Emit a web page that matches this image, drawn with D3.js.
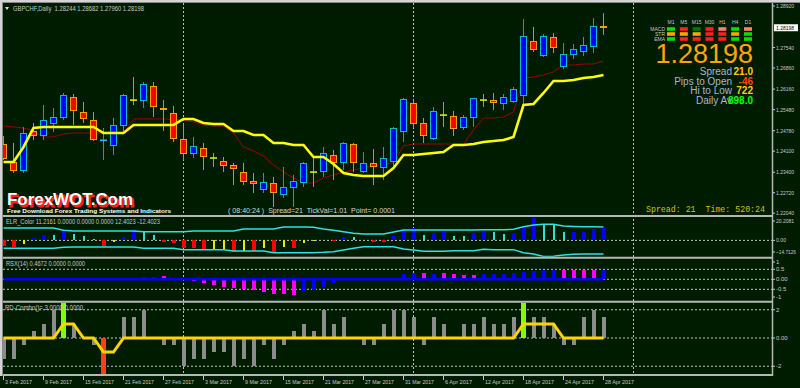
<!DOCTYPE html>
<html>
<head>
<meta charset="utf-8">
<script src="https://cdn.jsdelivr.net/npm/d3@7"></script>
<style>
  body { margin: 0; background: #001c00; }
  svg { display: block; font-family: "Liberation Sans", Arial, sans-serif; }
</style>
</head>
<body>
<div id="chart"></div>
<script>
// daily bars, GBPCHF
const dates = ["3 Feb","6 Feb","7 Feb","8 Feb","9 Feb","10 Feb","13 Feb","14 Feb","15 Feb","16 Feb","17 Feb","20 Feb","21 Feb","22 Feb","23 Feb","24 Feb","27 Feb","28 Feb",
  "1 Mar","2 Mar","3 Mar","6 Mar","7 Mar","8 Mar","9 Mar","10 Mar","13 Mar","14 Mar","15 Mar","16 Mar","17 Mar","20 Mar","21 Mar","22 Mar","23 Mar","24 Mar","27 Mar","28 Mar","29 Mar","30 Mar","31 Mar",
  "3 Apr","4 Apr","5 Apr","6 Apr","7 Apr","10 Apr","11 Apr","12 Apr","13 Apr","14 Apr","17 Apr","18 Apr","19 Apr","20 Apr","21 Apr","24 Apr","25 Apr","26 Apr","27 Apr","28 Apr"];
const open  = [1.24305,1.23708,1.23442,1.24737,1.24604,1.25002,1.25202,1.25866,1.25368,1.25102,1.24455,1.24272,1.24936,1.25800,1.25766,1.26231,1.25510,1.25334,1.24471,1.24006,1.24172,1.23876,1.23741,1.23608,1.23376,1.23077,1.22811,1.23010,1.22645,1.22878,1.23044,1.23412,1.23409,1.23940,1.23708,1.24305,1.23409,1.23674,1.23542,1.23741,1.24737,1.25666,1.25002,1.24504,1.25305,1.25235,1.24870,1.25202,1.25802,1.25766,1.25666,1.25733,1.25932,1.27725,1.27260,1.27858,1.26895,1.27326,1.27393,1.27559,1.28244];
const high  = [1.24604,1.24372,1.24903,1.25036,1.25633,1.25534,1.26032,1.25998,1.25733,1.25401,1.24870,1.25202,1.25998,1.26563,1.26397,1.26397,1.25799,1.25600,1.25036,1.24571,1.24372,1.24040,1.23907,1.23708,1.23708,1.23376,1.23376,1.23243,1.23575,1.23309,1.23741,1.23874,1.24239,1.24139,1.24405,1.24372,1.24073,1.24172,1.24239,1.24903,1.25866,1.25799,1.25202,1.25567,1.25733,1.25434,1.25301,1.25866,1.25998,1.26032,1.25998,1.26231,1.28488,1.28223,1.27990,1.28024,1.27692,1.27658,1.27891,1.28522,1.28682];
const low   = [1.23807,1.23376,1.23376,1.24471,1.24471,1.24737,1.25135,1.24969,1.25036,1.24438,1.23807,1.23973,1.24737,1.25633,1.25534,1.25235,1.24770,1.24405,1.23807,1.23874,1.23475,1.23575,1.23409,1.22977,1.22977,1.22712,1.22712,1.22247,1.22546,1.22247,1.22911,1.22911,1.23243,1.23143,1.23475,1.23409,1.23376,1.22977,1.23143,1.23575,1.24405,1.24870,1.24372,1.24471,1.24903,1.24604,1.24803,1.24903,1.25567,1.25467,1.25467,1.25700,1.25633,1.27393,1.27227,1.27360,1.26828,1.27160,1.27260,1.27360,1.27960];
const close = [1.23840,1.23442,1.24703,1.24604,1.25102,1.25202,1.25932,1.25434,1.25168,1.24471,1.24460,1.24936,1.25932,1.25795,1.26330,1.25567,1.25495,1.24504,1.24006,1.24239,1.23907,1.23872,1.23608,1.23508,1.23077,1.23010,1.23044,1.22712,1.22878,1.23077,1.23674,1.23405,1.24006,1.23708,1.24338,1.23708,1.23674,1.23575,1.23840,1.24836,1.25799,1.25002,1.24604,1.25401,1.25298,1.24836,1.25202,1.25832,1.25796,1.25700,1.25866,1.26164,1.27891,1.27459,1.27891,1.27526,1.27326,1.27459,1.27592,1.28223,1.28198];

// overlay lines on price
const slowLine = [1.23741,1.23741,1.24239,1.24870,1.24903,1.24903,1.24903,1.24903,1.24903,1.24903,1.24703,1.24703,1.24703,1.24969,1.24969,1.24969,1.24969,1.24969,1.25168,1.25168,1.25036,1.25002,1.25002,1.24770,1.24770,1.24637,1.24637,1.24372,1.24372,1.24305,1.24305,1.23907,1.23907,1.23674,1.23376,1.23309,1.23276,1.23276,1.23276,1.23542,1.23973,1.23973,1.24006,1.24040,1.24073,1.24305,1.24305,1.24338,1.24405,1.24438,1.24471,1.24571,1.25633,1.25666,1.26032,1.26430,1.26430,1.26463,1.26530,1.26563,1.26629];
const fastLine = [1.24936,1.24903,1.24870,1.24770,1.24571,1.24571,1.24670,1.24703,1.24703,1.24703,1.24703,1.24703,1.24703,1.25168,1.25168,1.25168,1.25168,1.25168,1.25135,1.25069,1.24969,1.24936,1.24936,1.24703,1.24239,1.24106,1.23940,1.23641,1.23409,1.23210,1.23044,1.23044,1.23210,1.23309,1.23409,1.23475,1.23542,1.23608,1.23674,1.23708,1.24272,1.24338,1.24338,1.24338,1.24338,1.24338,1.24338,1.24803,1.25202,1.25202,1.25235,1.25401,1.26530,1.26563,1.26629,1.26729,1.26961,1.26961,1.26994,1.26994,1.27094];
const priceTicks = [1.28920,1.27540,1.26860,1.26160,1.25480,1.24780,1.24100,1.23400,1.22720,1.22040];
const lastPrice = 1.28198;

// ELR_Color
const elrValues = [-4.9,-5.8,-3.6,1.9,5.0,5.0,8.0,5.9,4.0,1.3,-5.1,-1.2,3.4,10.5,8.0,5.0,-1.2,-2.4,-6.7,-6.7,-8.8,-8.8,-8.2,-10.4,-9.7,-9.7,-7.3,-10.9,-5.8,-7.3,-2.4,-0.5,1.0,-0.6,3.4,3.4,0.8,-1.2,-1.5,4.0,9.6,11.7,5.0,6.5,8.0,4.0,4.0,6.5,8.6,8.0,5.6,7.1,13.2,20.2081,14.2,14.2,8.0,8.0,8.0,10.2,11.2161];
const elrColors = ["r","r","y","b","b","c","b","c","c","c","r","y","b","b","c","c","r","r","r","r","r","y","y","r","y","r","y","r","y","r","y","y","b","r","b","c","c","r","r","b","b","b","c","b","b","c","c","b","b","c","c","b","b","b","c","c","c","b","b","b","b"];
const elrUpper = [11.4,11.4,11.4,11.4,11.4,11.4,9.3,8.6,8.6,8.6,8.6,8.6,8.6,8.6,8.0,8.0,8.0,8.0,8.0,8.6,8.6,8.6,8.6,8.6,10.5,10.5,10.5,10.5,12.3,12.3,12.3,12.0,10.5,9.3,8.0,6.5,5.9,5.9,5.9,7.7,9.6,9.6,9.6,9.6,9.6,9.6,9.6,9.6,9.8,9.8,9.8,10.2,12.6,14.2,14.8,14.8,13.2,12.8,12.6,12.5,12.4023];
const elrLower = [-7.3,-7.3,-7.3,-7.3,-7.3,-7.3,-6.3,-6.1,-6.1,-6.1,-6.1,-6.1,-6.1,-6.1,-7.3,-7.3,-7.3,-7.3,-8.5,-8.5,-8.5,-8.5,-8.5,-9.7,-9.7,-9.7,-9.7,-11.3,-11.3,-11.3,-11.3,-11.3,-11.0,-10.4,-8.8,-7.3,-5.8,-5.8,-5.8,-5.8,-7.9,-8.8,-10.0,-10.0,-10.0,-9.5,-9.5,-9.5,-8.2,-8.5,-8.5,-8.5,-11.3,-12.5,-14.7126,-14.5,-13.5,-12.8,-12.6,-12.5,-12.4023];
const elrMax = 20.2081, elrMin = -14.7126;

// RSX(14)
const rsxValues = [0,0,0,0,0,0,0,0,0,0.05,0,0,0,0,0.12,0.14,0.15,0.08,0,-0.10,-0.20,-0.30,-0.38,-0.45,-0.50,-0.55,-0.65,-0.72,-0.74,-0.78,-0.60,-0.55,-0.40,-0.20,-0.05,0,0,0,0,0.05,0.26,0.31,0.31,0.27,0.31,0.26,0.22,0.22,0.26,0.26,0.26,0.31,0.36,0.44,0.48,0.48,0.48,0.48,0.48,0.48,0.4672];
const rsxColors = ["b","b","b","b","b","b","b","b","b","m","b","b","b","b","b","b","m","m","m","m","m","m","m","m","m","m","m","m","m","m","b","b","b","b","b","b","b","b","b","b","b","b","m","b","m","m","m","m","b","b","b","b","b","b","b","b","m","m","m","m","b"];
const rsxLevels = [0.5, 0, -0.5];

// RD-Combo
const rdHist = [-1.5,-1.5,-0.5,0.5,1,2,0,1,0,-0.5,0,0,1.5,1.5,2,0,-0.5,-0.5,-2,-1.5,-1.5,-1,-1,-2,-1.5,-2,-0.5,-1.5,-0.5,0.5,1,0.5,2,1,1.5,0,-0.5,-0.5,1,2,2,1.5,-0.5,1.5,1,0,1,1,1.5,1,1,1.5,0,1.5,1.5,1,-0.5,-0.5,1.5,2,1.5];
const rdSignal = [0,0,0,0,0,0,1,1,0,0,-1,-1,0,0,0,0,0,0,0,0,0,0,0,0,0,0,0,0,0,0,0,0,0,0,0,0,0,0,0,0,0,0,0,0,0,0,0,0,0,0,0,0,1,1,1,1,0,0,0,0,0];
const rdArrows = [0,0,0,0,0,0,3,0,0,0,-3,0,0,0,0,0,0,0,0,0,0,0,0,0,0,0,0,0,0,0,0,0,0,0,0,0,0,0,0,0,0,0,0,0,0,0,0,0,0,0,0,0,3,0,0,0,0,0,0,0,0];
const rdLevels = [2, 0, -2];

const monthStarts = [18, 41, 63]; // bar index of 1 Mar, 3 Apr, 3 May

// dashboard
const timeframes = ["M1","M5","M15","M30","H1","H4","D1"];
const dashRows = ["MACD","STR","EMA"];
const dashColors = [
  ["#00e000","#ff2020","#007800","#ff2020","#ff8070","#00e000","#ff8070"],
  ["#ffa500","#ffa500","#ffa500","#ff2020","#ff2020","#ffa500","#00e000"],
  ["#00e000","#ff2020","#ff2020","#ff2020","#ff2020","#00e000","#00e000"]
];
const infoLabels = ["Spread","Pips to Open","Hi to Low","Daily Av"];
const infoValues = ["21.0","-46","722","898.0"];
const infoColors = ["#ffd000","#ff4500","#ffd000","#00ff00"];

const width = 800, height = 388;
const grid = "#c0c4c0", txt = "#c8c8c8";

const svg = d3.select("#chart").append("svg")
  .attr("width", width)
  .attr("height", height);

svg.append("rect").attr("width", width).attr("height", height).attr("fill", "#001c00");

// scales
const x = d3.scaleLinear().domain([0, dates.length - 1]).range([3, 603]);
const yPrice = d3.scaleLinear().domain([1.22040, 1.28920]).range([213.2, 6]);
const yElr = d3.scaleLinear().domain([elrMin, elrMax]).range([256.4, 218.4]);
const yRsx = d3.scaleLinear().domain([-1, 1]).range([299.3, 259.3]);
const yRd = d3.scaleLinear().domain([-2.5, 2.5]).range([373.3, 302.7]);

const panels = [
  { id: "main", top: 3, bottom: 215 },
  { id: "elr", top: 217, bottom: 256.7 },
  { id: "rsx", top: 258.7, bottom: 300.7 },
  { id: "rd", top: 302.7, bottom: 374 }
];
const defs = svg.append("defs");
panels.forEach(p => {
  defs.append("clipPath").attr("id", "clip-" + p.id)
    .append("rect").attr("x", 3).attr("y", p.top).attr("width", 769).attr("height", p.bottom - p.top);
});

// month grid
svg.append("g").selectAll("line").data(monthStarts).join("line")
  .attr("x1", d => x(d) + 0.5).attr("x2", d => x(d) + 0.5)
  .attr("y1", 3).attr("y2", 375)
  .attr("stroke", grid).attr("stroke-dasharray", "2,2");

// ---- main chart
const main = svg.append("g").attr("clip-path", "url(#clip-main)");
const candles = dates.map((d, i) => ({ i, o: open[i], h: high[i], l: low[i], c: close[i] }));

const line = (scale) => d3.line().x((d, i) => x(i) + 0.5).y(d => scale(d));

main.append("path").datum(fastLine)
  .attr("d", line(yPrice))
  .attr("fill", "none").attr("stroke", "#a00000").attr("stroke-width", 1);

main.selectAll("line.wick").data(candles).join("line")
  .attr("class", "wick")
  .attr("x1", d => x(d.i) + 0.5).attr("x2", d => x(d.i) + 0.5)
  .attr("y1", d => yPrice(d.h)).attr("y2", d => yPrice(d.l))
  .attr("stroke", d => d.c >= d.o ? "#1e9e9e" : "#b4a400");

const isDoji = d => Math.abs(d.c - d.o) < 0.0001;

main.selectAll("rect.body").data(candles.filter(d => !isDoji(d))).join("rect")
  .attr("class", "body")
  .attr("x", d => x(d.i) - 2.5)
  .attr("width", 6)
  .attr("y", d => yPrice(Math.max(d.o, d.c)))
  .attr("height", d => yPrice(Math.min(d.o, d.c)) - yPrice(Math.max(d.o, d.c)))
  .attr("fill", d => d.c > d.o ? "#0000ff" : "#ff0000")
  .attr("stroke", d => d.c > d.o ? "#10b8c8" : "#ffa000")
  .attr("shape-rendering", "crispEdges");

main.selectAll("line.doji").data(candles.filter(isDoji)).join("line")
  .attr("class", "doji")
  .attr("x1", d => x(d.i) - 3).attr("x2", d => x(d.i) + 4)
  .attr("y1", d => yPrice(d.c)).attr("y2", d => yPrice(d.c))
  .attr("stroke", d => d.c >= d.o ? "#30b8ff" : "#e8e800")
  .attr("stroke-width", 1.6);

main.append("path").datum(slowLine)
  .attr("d", line(yPrice))
  .attr("fill", "none").attr("stroke", "#ffff00").attr("stroke-width", 2.6);

// ---- ELR_Color
const elr = svg.append("g").attr("clip-path", "url(#clip-elr)");
elr.append("line").attr("x1", 3).attr("x2", 772).attr("y1", yElr(0)).attr("y2", yElr(0))
  .attr("stroke", grid).attr("stroke-dasharray", "2,2");
const elrFill = { r: "#ff0000", y: "#e8e800", b: "#0000ff", c: "#30e0d0" };
elr.selectAll("rect").data(elrValues).join("rect")
  .attr("x", (d, i) => elrColors[i] === "b" || elrColors[i] === "r" ? x(i) - 1.5 : x(i) - 0.5)
  .attr("width", (d, i) => elrColors[i] === "b" || elrColors[i] === "r" ? 4 : 2)
  .attr("y", d => yElr(Math.max(d, 0)))
  .attr("height", d => Math.abs(yElr(d) - yElr(0)))
  .attr("fill", (d, i) => elrFill[elrColors[i]])
  .attr("shape-rendering", "crispEdges");
[elrUpper, elrLower].forEach(band => {
  elr.append("path").datum(band).attr("d", line(yElr))
    .attr("fill", "none").attr("stroke", "#30e0e0").attr("stroke-width", 1.5);
});

// ---- RSX
const rsx = svg.append("g").attr("clip-path", "url(#clip-rsx)");
rsx.selectAll("line.lvl").data(rsxLevels).join("line").attr("class", "lvl")
  .attr("x1", 3).attr("x2", 772).attr("y1", d => yRsx(d)).attr("y2", d => yRsx(d))
  .attr("stroke", grid).attr("stroke-dasharray", "2,2");
rsx.selectAll("rect").data(rsxValues).join("rect")
  .attr("x", (d, i) => x(i) - 1.5).attr("width", 4)
  .attr("y", d => yRsx(Math.max(d, 0)))
  .attr("height", d => Math.abs(yRsx(d) - yRsx(0)))
  .attr("fill", (d, i) => rsxColors[i] === "m" ? "#ff00ff" : "#0000ff")
  .attr("shape-rendering", "crispEdges");
rsx.append("path").datum(rsxValues.map(() => 0)).attr("d", line(yRsx))
  .attr("fill", "none").attr("stroke", "#0000ff").attr("stroke-width", 2.5);

// ---- RD-Combo
const rd = svg.append("g").attr("clip-path", "url(#clip-rd)");
rd.selectAll("line.lvl").data(rdLevels).join("line").attr("class", "lvl")
  .attr("x1", 3).attr("x2", 772).attr("y1", d => yRd(d)).attr("y2", d => yRd(d))
  .attr("stroke", grid).attr("stroke-dasharray", "2,2");
rd.selectAll("rect.h").data(rdHist).join("rect").attr("class", "h")
  .attr("x", (d, i) => x(i) - 1.5).attr("width", 4)
  .attr("y", d => yRd(Math.max(d, 0)))
  .attr("height", d => Math.abs(yRd(d) - yRd(0)))
  .attr("fill", "#8c8c8c")
  .attr("shape-rendering", "crispEdges");
rd.selectAll("rect.a").data(rdArrows).join("rect").attr("class", "a")
  .attr("x", (d, i) => x(i) - 2).attr("width", 5)
  .attr("y", d => yRd(Math.max(d, 0)))
  .attr("height", d => Math.abs(yRd(d) - yRd(0)))
  .attr("fill", d => d > 0 ? "#80ff00" : "#ff4010");
rd.append("path").datum(rdSignal).attr("d", line(yRd))
  .attr("fill", "none").attr("stroke", "#ffd400").attr("stroke-width", 3);

// ---- frame and separators
svg.append("rect").attr("x", 0).attr("y", 0).attr("width", width).attr("height", 2).attr("fill", "#d4d4d4");
svg.append("rect").attr("x", 0).attr("y", 0).attr("width", 2).attr("height", 376).attr("fill", "#d4d4d4");
svg.append("line").attr("x1", 2.5).attr("x2", 2.5).attr("y1", 2).attr("y2", 376).attr("stroke", "#8a8a8a");
svg.append("line").attr("x1", 2).attr("x2", width).attr("y1", 2.5).attr("y2", 2.5).attr("stroke", "#8a8a8a");
svg.selectAll("line.sep").data([216, 257.7, 301.7, 375]).join("line").attr("class", "sep")
  .attr("x1", 3).attr("x2", 773).attr("y1", d => d).attr("y2", d => d)
  .attr("stroke", "#b4b8b4").attr("stroke-width", 2);
svg.append("line").attr("x1", 772.5).attr("x2", 772.5).attr("y1", 3).attr("y2", 376)
  .attr("stroke", "#b4b8b4").attr("stroke-width", 1.5);

// ---- right axis
const axisText = (g, y, label, len) => {
  g.append("line").attr("x1", 773).attr("x2", 775).attr("y1", y).attr("y2", y).attr("stroke", txt);
  const t = g.append("text").attr("x", 776).attr("y", y + 2).attr("font-size", 6).attr("fill", txt).text(label);
  if (len) t.attr("textLength", len).attr("lengthAdjust", "spacingAndGlyphs");
};
const ax = svg.append("g");
priceTicks.forEach(p => axisText(ax, yPrice(p), d3.format(".5f")(p), 18));
ax.append("rect").attr("x", 774).attr("y", yPrice(lastPrice) - 3.5).attr("width", 24).attr("height", 7).attr("fill", "#ffffff");
ax.append("text").attr("x", 776).attr("y", yPrice(lastPrice) + 2).attr("font-size", 6).attr("fill", "#000")
  .attr("textLength", 18).attr("lengthAdjust", "spacingAndGlyphs").text(d3.format(".5f")(lastPrice));

const clampY = (y, lo, hi) => Math.max(lo, Math.min(hi, y));
axisText(ax, clampY(yElr(elrMax), 221, 252), d3.format(".4f")(elrMax), 18);
axisText(ax, yElr(0), "0.00", 10);
axisText(ax, clampY(yElr(elrMin), 221, 252), d3.format(".4f")(elrMin), 20);
[1, 0.5, 0, -0.5, -1].forEach(v => axisText(ax, clampY(yRsx(v), 262, 297), v === 0 ? "0.00" : String(v)));
[2, 0, -2].forEach(v => axisText(ax, clampY(yRd(v), 308, 370), v === 0 ? "0.00" : String(v)));

// ---- date axis
const xt = svg.append("g");
dates.forEach((d, i) => {
  if (i % 4 !== 0) return;
  xt.append("line").attr("x1", x(i) + 0.5).attr("x2", x(i) + 0.5).attr("y1", 376).attr("y2", 380).attr("stroke", txt);
  xt.append("text").attr("x", x(i) + 2).attr("y", 384).attr("font-size", 6).attr("fill", txt)
    .attr("textLength", d.length > 5 ? 29 : 27).attr("lengthAdjust", "spacingAndGlyphs")
    .text(d + " 2017");
});

// ---- labels
const lbl = (xx, yy, s, len, size, color) => svg.append("text")
  .attr("x", xx).attr("y", yy).attr("font-size", size || 6.5).attr("fill", color || txt)
  .attr("textLength", len).attr("lengthAdjust", "spacingAndGlyphs")
  .style("white-space", "pre").text(s);

svg.append("path").attr("d", "M5,7 L9,7 L7,10 Z").attr("fill", "#e0e0e0");
lbl(13, 11, "GBPCHF,Daily  " + [open, high, low, close].map(a => a[a.length - 1].toFixed(5)).join(" "), 131);
lbl(6, 224, "ELR_Color " + [elrValues[60], 0, 0, 0, elrUpper[60], elrLower[60]].map(v => v.toFixed(4)).join(" "), 154);
lbl(6, 266, "RSX(14) " + [rsxValues[60], 0, 0].map(v => v.toFixed(4)).join(" "), 79);
lbl(5, 310, "RD-Combo()= 3.0000 0.0000", 78);
lbl(228, 213, "( 08:40:24 )  Spread=21  TickVal=1.01  Point= 0.0001", 167, 7, "#d8d8d8");
svg.append("text").attr("x", 646).attr("y", 212).attr("font-family", "Liberation Mono, monospace")
  .attr("font-size", 8.3).attr("fill", "#c8c800").attr("textLength", 119).style("white-space", "pre")
  .text("Spread: 21  Time: 520:24");

// logo
svg.append("text").attr("x", 8.5).attr("y", 206.5).attr("font-size", 16.5).attr("font-weight", "bold")
  .attr("fill", "#ff2020").attr("stroke", "#ff2020").attr("stroke-width", 1)
  .attr("textLength", 126).attr("lengthAdjust", "spacingAndGlyphs").text("ForexWOT.Com");
svg.append("text").attr("x", 7).attr("y", 205).attr("font-size", 16.5).attr("font-weight", "bold")
  .attr("fill", "#ffffff").attr("textLength", 126).attr("lengthAdjust", "spacingAndGlyphs").text("ForexWOT.Com");
svg.append("text").attr("x", 7).attr("y", 213).attr("font-size", 6.2).attr("font-weight", "bold")
  .attr("fill", "#ffffff").attr("textLength", 164).attr("lengthAdjust", "spacingAndGlyphs")
  .text("Free Download Forex Trading Systems and Indicators");

// ---- dashboard
const dcol = d3.scalePoint().domain(timeframes).range([671, 748]);
const drow = d3.scalePoint().domain(dashRows).range([29, 39]);
const dash = svg.append("g");
dash.selectAll("text.tf").data(timeframes).join("text").attr("class", "tf")
  .attr("x", d => dcol(d)).attr("y", 24).attr("text-anchor", "middle")
  .attr("font-size", 5).attr("fill", txt).text(d => d);
dash.selectAll("text.row").data(dashRows).join("text").attr("class", "row")
  .attr("x", 665).attr("y", d => drow(d) + 1.8).attr("text-anchor", "end")
  .attr("font-size", 5).attr("fill", txt).text(d => d);
dashRows.forEach((r, ri) => {
  dash.selectAll("rect.r" + ri).data(timeframes).join("rect").attr("class", "r" + ri)
    .attr("x", d => dcol(d) - 4).attr("y", drow(r) - 1.8).attr("width", 8).attr("height", 3.6)
    .attr("fill", (d, ci) => dashColors[ri][ci]);
});
svg.append("text").attr("x", 753).attr("y", 63).attr("text-anchor", "end")
  .attr("font-size", 27).attr("fill", "#ffa500").text(d3.format(".5f")(lastPrice));
const infoY = d3.scalePoint().domain(infoLabels).range([75, 103.5]);
infoLabels.forEach((l, i) => {
  svg.append("text").attr("x", 732).attr("y", infoY(l)).attr("text-anchor", "end")
    .attr("font-size", 10).attr("fill", "#a8b8d0").text(l);
  svg.append("text").attr("x", 753).attr("y", infoY(l)).attr("text-anchor", "end")
    .attr("font-size", 10).attr("font-weight", "bold").attr("fill", infoColors[i]).text(infoValues[i]);
});
</script>
</body>
</html>
